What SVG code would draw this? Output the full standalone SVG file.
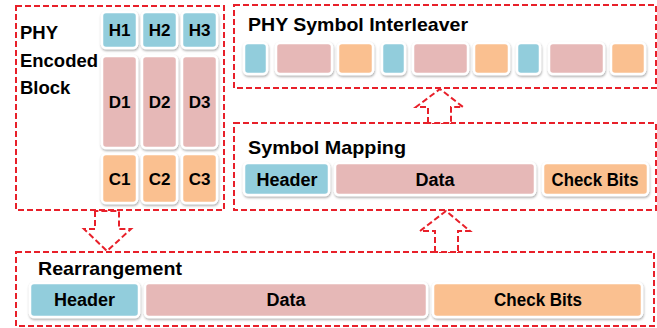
<svg xmlns="http://www.w3.org/2000/svg" width="657" height="328" viewBox="0 0 657 328">
<defs>
<filter id="sh" x="-20%" y="-20%" width="140%" height="150%">
<feDropShadow dx="0.5" dy="1.5" stdDeviation="1.2" flood-color="#000" flood-opacity="0.35"/>
</filter>
<style>
.box{fill:none;stroke:#E8202A;stroke-width:2;stroke-dasharray:6 3}
.arr{fill:#fff;stroke:#E8202A;stroke-width:2;stroke-dasharray:6 3}
.c{stroke:#fff;stroke-width:2.5;filter:url(#sh)}
.b{fill:#92CDDC}.p{fill:#E6B8B7}.o{fill:#FAC090}
.t{font-family:"Liberation Sans",Arial,sans-serif;font-weight:bold;fill:#000}
.ti{font-size:18.5px}
.cl{font-size:17px;text-anchor:middle}
.cw{font-size:18px;text-anchor:middle}
</style>
</defs>
<rect width="657" height="328" fill="#fff"/>

<g id="encoded-block">
<rect class="box" x="16" y="6" width="208" height="204"/>
<text class="t ti" x="20" y="39">PHY</text>
<text class="t ti" x="20" y="67" textLength="78" lengthAdjust="spacingAndGlyphs">Encoded</text>
<text class="t ti" x="20" y="94">Block</text>
<rect class="c b" x="102" y="12" width="35" height="36" rx="4"/>
<rect class="c b" x="142" y="12" width="35" height="36" rx="4"/>
<rect class="c b" x="182" y="12" width="35" height="36" rx="4"/>
<rect class="c p" x="102" y="56" width="35" height="92" rx="4"/>
<rect class="c p" x="142" y="56" width="35" height="92" rx="4"/>
<rect class="c p" x="182" y="56" width="35" height="92" rx="4"/>
<rect class="c o" x="102" y="154" width="35" height="49" rx="4"/>
<rect class="c o" x="142" y="154" width="35" height="49" rx="4"/>
<rect class="c o" x="182" y="154" width="35" height="49" rx="4"/>
<text class="t cl" x="119.5" y="36">H1</text>
<text class="t cl" x="159.5" y="36">H2</text>
<text class="t cl" x="199.5" y="36">H3</text>
<text class="t cl" x="119.5" y="108">D1</text>
<text class="t cl" x="159.5" y="108">D2</text>
<text class="t cl" x="199.5" y="108">D3</text>
<text class="t cl" x="119.5" y="185">C1</text>
<text class="t cl" x="159.5" y="185">C2</text>
<text class="t cl" x="199.5" y="185">C3</text>
</g>

<g id="interleaver">
<rect class="box" x="234" y="5" width="422" height="83"/>
<text class="t ti" x="248" y="31" textLength="220" lengthAdjust="spacingAndGlyphs">PHY Symbol Interleaver</text>
<rect class="c b" x="244" y="43" width="23" height="31" rx="4"/>
<rect class="c p" x="276" y="43" width="56" height="31" rx="4"/>
<rect class="c o" x="338" y="43" width="35" height="31" rx="4"/>
<rect class="c b" x="382" y="43" width="23" height="31" rx="4"/>
<rect class="c p" x="413" y="43" width="55" height="31" rx="4"/>
<rect class="c o" x="474" y="43" width="35" height="31" rx="4"/>
<rect class="c b" x="517" y="43" width="23" height="31" rx="4"/>
<rect class="c p" x="549" y="43" width="55" height="31" rx="4"/>
<rect class="c o" x="611" y="43" width="34" height="31" rx="4"/>
</g>

<g id="symbol-mapping">
<rect class="box" x="234" y="123" width="422" height="87"/>
<text class="t ti" x="248" y="154" textLength="158" lengthAdjust="spacingAndGlyphs">Symbol Mapping</text>
<rect class="c b" x="244" y="163" width="85" height="32" rx="4"/>
<rect class="c p" x="335" y="163" width="200" height="32" rx="4"/>
<rect class="c o" x="543" y="163" width="105" height="32" rx="4"/>
<text class="t cw" x="287" y="186">Header</text>
<text class="t cw" x="435" y="186">Data</text>
<text class="t cw" x="595" y="186" textLength="87" lengthAdjust="spacingAndGlyphs">Check Bits</text>
</g>

<g id="rearrangement">
<rect class="box" x="16" y="252" width="638" height="74"/>
<text class="t ti" x="38" y="275" textLength="144" lengthAdjust="spacingAndGlyphs">Rearrangement</text>
<rect class="c b" x="30" y="283" width="109" height="34" rx="4"/>
<rect class="c p" x="145" y="283" width="282" height="34" rx="4"/>
<rect class="c o" x="433" y="283" width="209" height="34" rx="4"/>
<text class="t cw" x="84.5" y="306">Header</text>
<text class="t cw" x="286" y="306">Data</text>
<text class="t cw" x="538" y="306" textLength="88" lengthAdjust="spacingAndGlyphs">Check Bits</text>
</g>

<g id="connectors">
<polygon class="arr" points="428,123 428,107 416,107 440,89 463,107 451,107 451,123"/>
<polygon class="arr" points="435,252 435,231 420,231 446,211 470,231 458,231 458,252"/>
<polygon class="arr" points="95,211 95,229 84,229 107,251 131,229 119,229 119,211"/>
</g>
</svg>
